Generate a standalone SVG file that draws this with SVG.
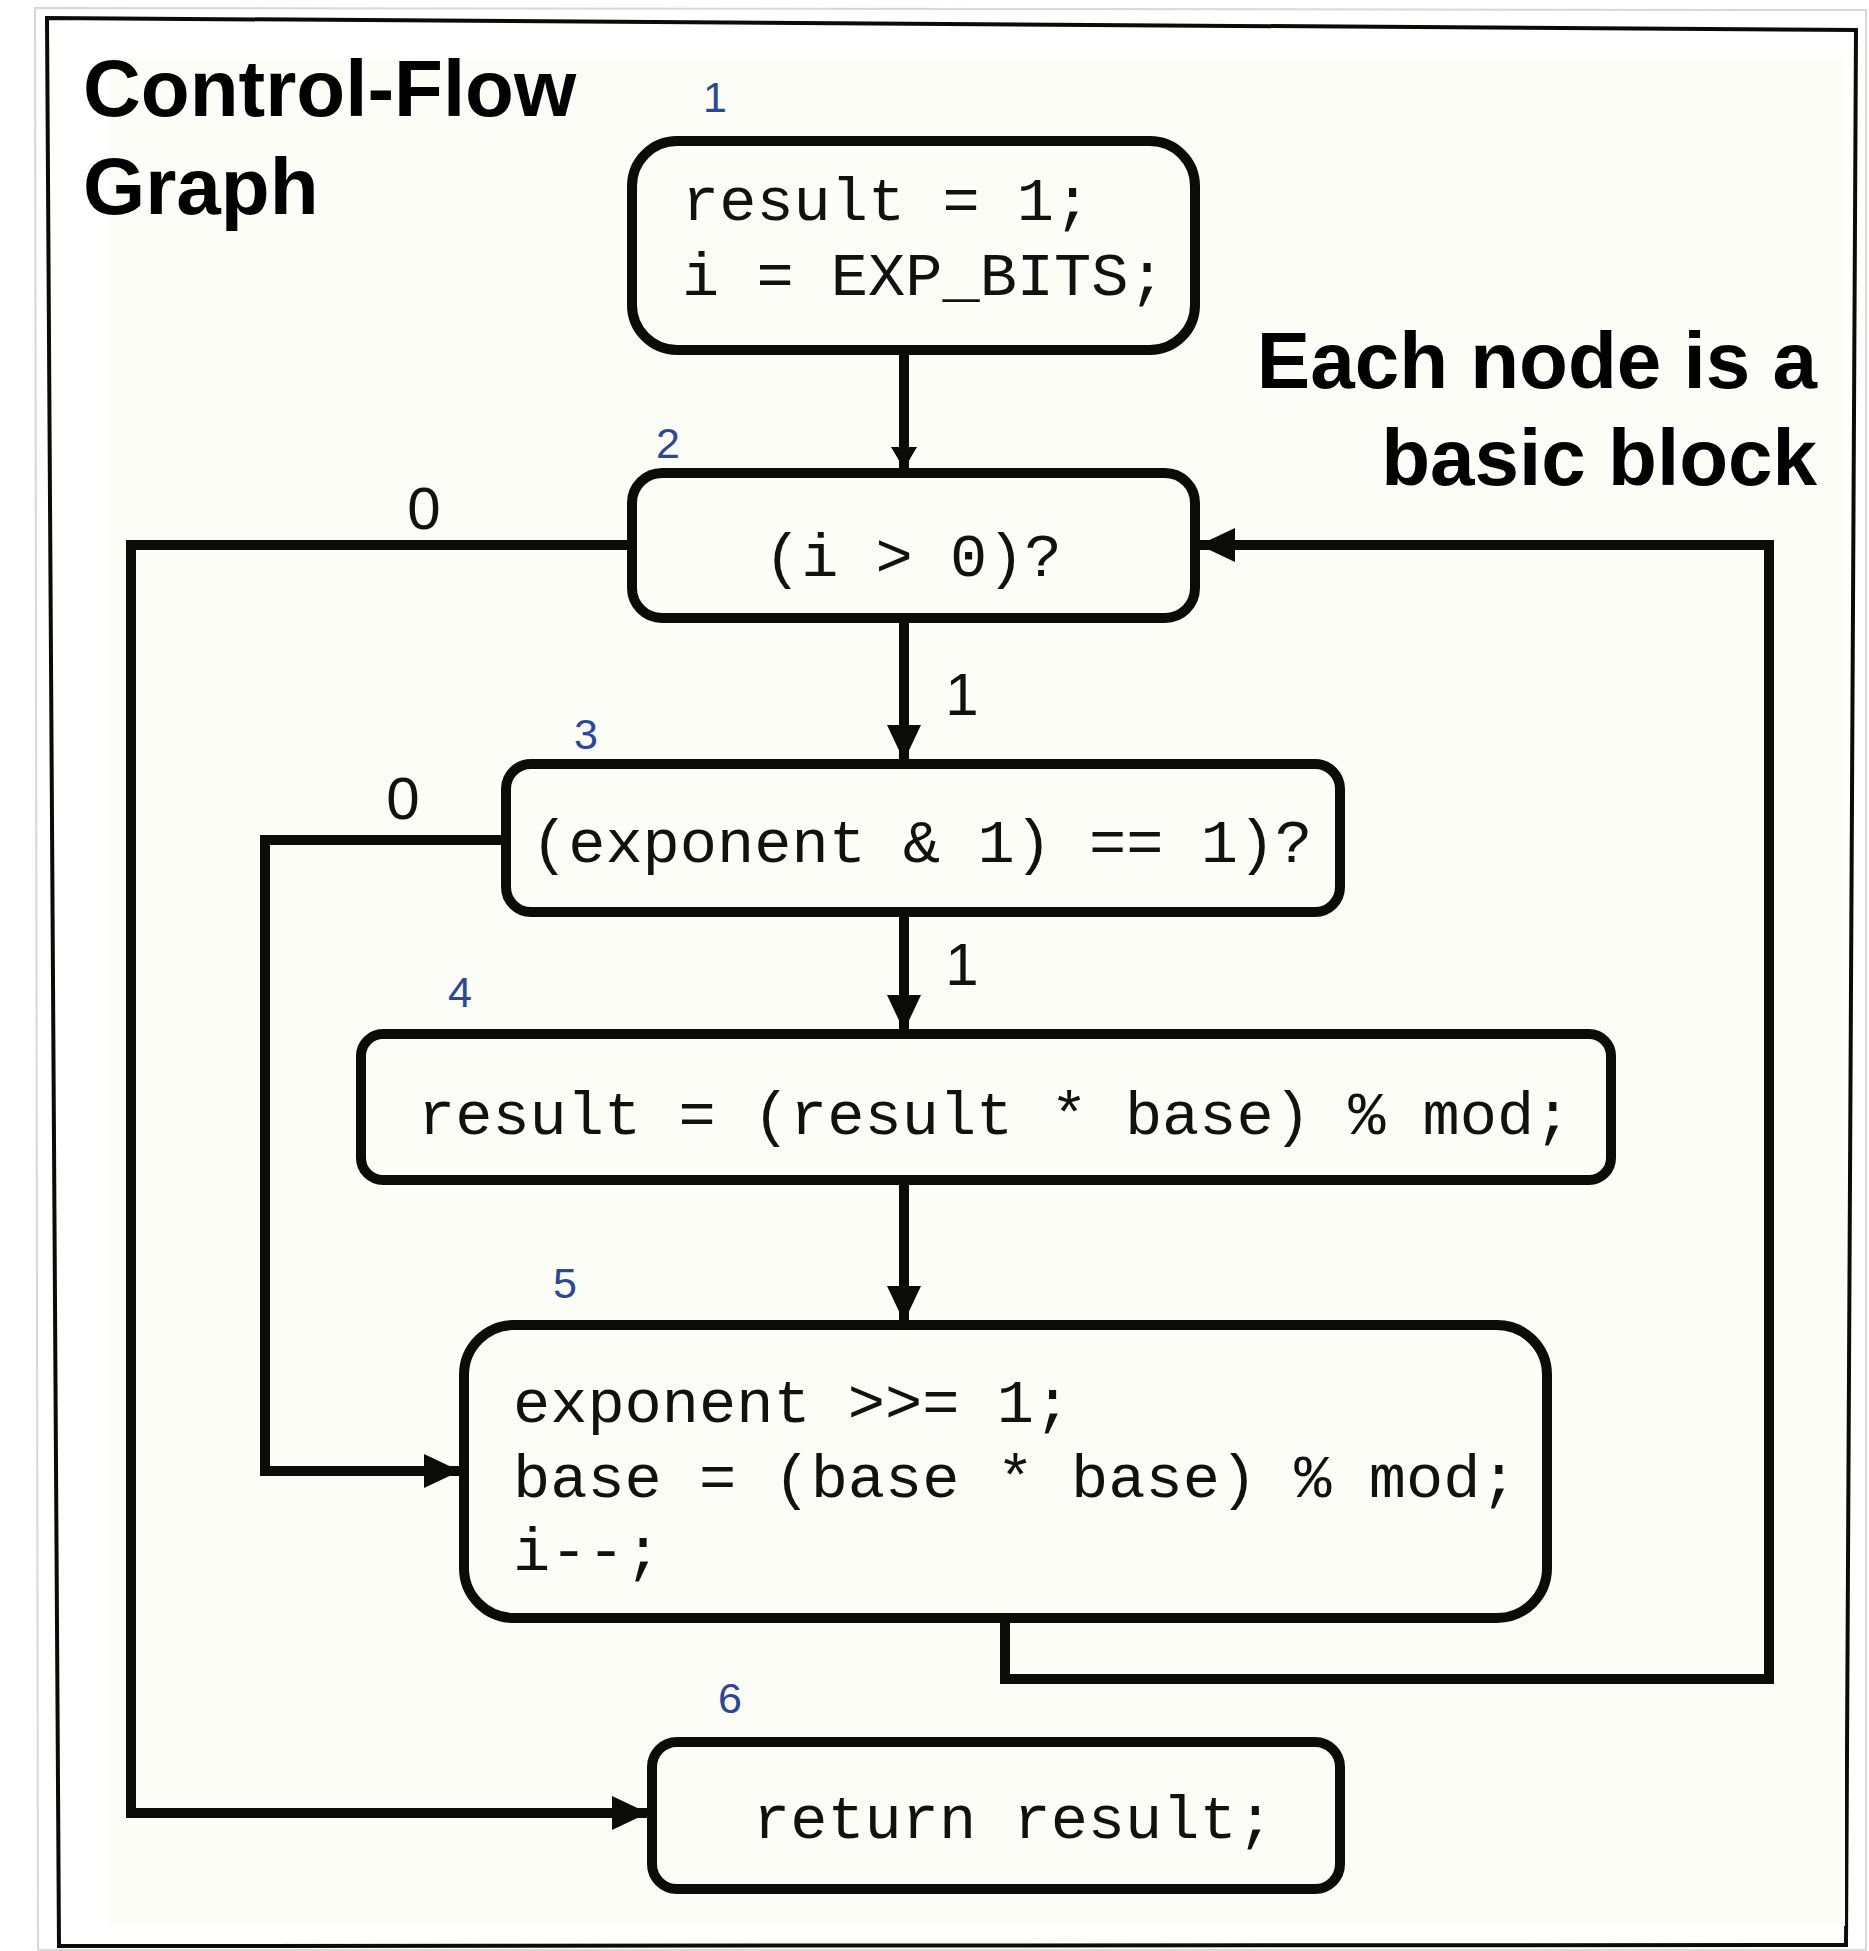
<svg xmlns="http://www.w3.org/2000/svg" width="1869" height="1951" viewBox="0 0 1869 1951">
<defs>
<style>
.title{font-family:"Liberation Sans",Arial,sans-serif;font-weight:bold;font-size:80px;fill:#000}
.num{font-family:"Liberation Sans",Arial,sans-serif;font-size:43px;fill:#2b479b;text-anchor:middle}
.lbl{font-family:"Liberation Sans",Arial,sans-serif;font-size:60px;fill:#111;text-anchor:middle}
.code{font-family:"Liberation Mono","Courier New",monospace;font-size:62px;fill:#111}
.box{fill:#fdfdf8;stroke:#0b0b08;stroke-width:10}
.edge{fill:none;stroke:#0b0b08;stroke-width:10;stroke-linejoin:miter}
</style>
<marker id="ah" viewBox="0 0 10 10" refX="10" refY="5" markerWidth="36" markerHeight="34" markerUnits="userSpaceOnUse" orient="auto" preserveAspectRatio="none">
<path d="M0,0 L10,5 L0,10 z" fill="#0b0b08"/>
</marker>
<marker id="ahs" viewBox="0 0 10 10" refX="10" refY="5" markerWidth="22" markerHeight="26" markerUnits="userSpaceOnUse" orient="auto" preserveAspectRatio="none">
<path d="M0,0 L10,5 L0,10 z" fill="#0b0b08"/>
</marker>
</defs>
<rect x="0" y="0" width="1869" height="1951" fill="#ffffff"/>
<polygon points="35,8 1866,10 1866,1950 38,1950" fill="none" stroke="#d8d8d8" stroke-width="2"/>
<polygon points="47,18 1856,30 1846,1945 59,1946" fill="#ffffff" stroke="#0b0b08" stroke-width="4"/>
<rect x="107" y="58" width="1738" height="1868" fill="#fcfdf6"/>

<g id="title">
<text class="title" x="83" y="116">Control-Flow</text>
<text class="title" x="83" y="214">Graph</text>
</g>
<g id="note">
<text class="title" x="1817" y="388" text-anchor="end">Each node is a</text>
<text class="title" x="1817" y="485" text-anchor="end">basic block</text>
</g>

<g id="connectors">
<path class="edge" d="M904,350 L904,469" stroke-width="6" marker-end="url(#ahs)"/>
<path class="edge" d="M904,618 L904,761" stroke-width="8" marker-end="url(#ah)"/>
<path class="edge" d="M904,912 L904,1031" stroke-width="8" marker-end="url(#ah)"/>
<path class="edge" d="M904,1180 L904,1322" stroke-width="8" marker-end="url(#ah)"/>
<path class="edge" d="M632,545 L131,545 L131,1813 L648,1813" marker-end="url(#ah)"/>
<path class="edge" d="M506,840 L265,840 L265,1471 L460,1471" marker-end="url(#ah)"/>
<path class="edge" d="M1005,1618 L1005,1679 L1769,1679 L1769,545 L1199,545" marker-end="url(#ah)"/>
<text class="lbl" x="962" y="715">1</text>
<text class="lbl" x="962" y="985">1</text>
<text class="lbl" x="424" y="529">0</text>
<text class="lbl" x="403" y="819">0</text>
</g>

<g id="node1">
<text class="num" x="715" y="112">1</text>
<rect class="box" x="632" y="141" width="563" height="209" rx="45"/>
<text class="code" x="682" y="220">result = 1;</text>
<text class="code" x="682" y="295">i = EXP_BITS;</text>
</g>
<g id="node2">
<text class="num" x="668" y="458">2</text>
<rect class="box" x="632" y="473" width="563" height="145" rx="30"/>
<text class="code" x="764" y="576">(i &gt; 0)?</text>
</g>
<g id="node3">
<text class="num" x="586" y="749">3</text>
<rect class="box" x="506" y="764" width="834" height="148" rx="25"/>
<text class="code" x="531" y="862">(exponent &amp; 1) == 1)?</text>
</g>
<g id="node4">
<text class="num" x="460" y="1007">4</text>
<rect class="box" x="361" y="1034" width="1250" height="146" rx="22"/>
<text class="code" x="418" y="1134">result = (result * base) % mod;</text>
</g>
<g id="node5">
<text class="num" x="565" y="1298">5</text>
<rect class="box" x="464" y="1325" width="1083" height="293" rx="50"/>
<text class="code" x="513" y="1422">exponent &gt;&gt;= 1;</text>
<text class="code" x="513" y="1497">base = (base * base) % mod;</text>
<text class="code" x="513" y="1570">i--;</text>
</g>
<g id="node6">
<text class="num" x="730" y="1713">6</text>
<rect class="box" x="652" y="1742" width="688" height="147" rx="25"/>
<text class="code" x="753" y="1838">return result;</text>
</g>
</svg>
